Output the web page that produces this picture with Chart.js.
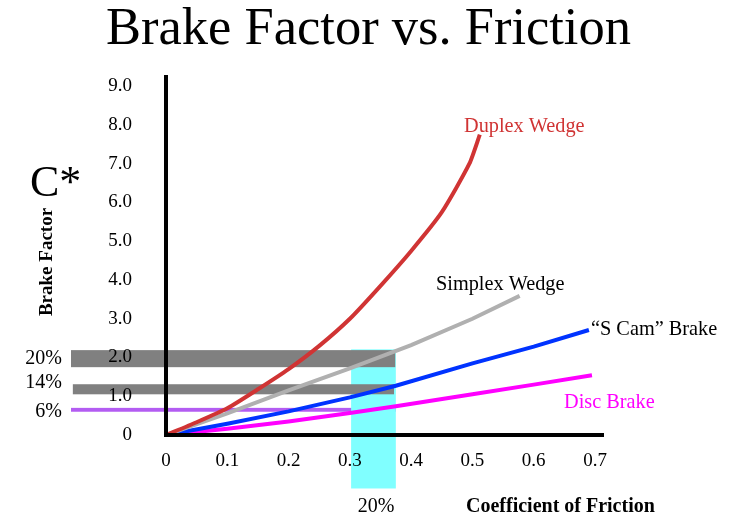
<!DOCTYPE html>
<html>
<head>
<meta charset="utf-8">
<script src="https://cdn.jsdelivr.net/npm/chart.js@4"></script>
<style>
  html, body { margin: 0; padding: 0; background: #fff; }
  #wrap { width: 737px; height: 530px; }
</style>
</head>
<body>
<div id="wrap"><canvas id="brake" width="737" height="530"></canvas></div>
<script>
// tick values
const xTicks = [0, 0.1, 0.2, 0.3, 0.4, 0.5, 0.6, 0.7];
const yTicks = [0, 1, 2, 3, 4, 5, 6, 7, 8, 9];

// curves
const duplexX = [0, 0.05, 0.1, 0.15, 0.2, 0.25, 0.3, 0.35, 0.4, 0.45, 0.495, 0.512];
const duplexY = [0, 0.33, 0.69, 1.18, 1.70, 2.30, 3.0, 3.85, 4.75, 5.75, 7.0, 7.75];
const simplexX = [0, 0.1, 0.2, 0.3, 0.4, 0.5, 0.577];
const simplexY = [0, 0.56, 1.15, 1.72, 2.32, 3.0, 3.59];
const sCamX = [0, 0.1, 0.2, 0.3, 0.375, 0.5, 0.6, 0.69];
const sCamY = [0, 0.29, 0.61, 0.97, 1.27, 1.85, 2.28, 2.71];
const discX = [0, 0.1, 0.2, 0.3, 0.375, 0.5, 0.6, 0.695];
const discY = [0, 0.16, 0.35, 0.57, 0.74, 1.05, 1.30, 1.54];

// horizontal shaded bands (brake factor ranges) and the friction band
const shadeLabels = ['20%', '14%', '6%'];
const shadeLow = [1.75, 1.05, 0.60];
const shadeHigh = [2.19, 1.31, 0.70];
const shadeFrom = -0.155;
const shadeTo = [0.374, 0.372, 0.375];
const frictionBand = [0.302, 0.375];
const frictionRange = [-1.38, 2.21];

const serif = '"Liberation Serif", "Times New Roman", serif';

function pts(xs, ys) {
    return xs.map((x, i) => ({ x: x, y: ys[i] }));
}

// bands behind the curves, computed through the chart scales
const bandsPlugin = {
    id: 'bands',
    beforeDatasetsDraw(chart) {
        const { ctx, scales: { x, y } } = chart;
        const rect = (x0, x1, y0, y1, color) => {
            const px0 = x.getPixelForValue(x0), px1 = x.getPixelForValue(x1);
            const py0 = y.getPixelForValue(y0), py1 = y.getPixelForValue(y1);
            ctx.fillStyle = color;
            ctx.fillRect(px0, py1, px1 - px0, py0 - py1);
        };
        ctx.save();
        // 6% line sits under the friction band
        rect(shadeFrom, shadeTo[2], shadeLow[2], shadeHigh[2], '#b35cf2');
        rect(frictionBand[0], frictionBand[1], frictionRange[0], frictionRange[1], '#80ffff');
        rect(shadeFrom, shadeTo[0], shadeLow[0], shadeHigh[0], '#808080');
        rect(shadeFrom + 0.003, shadeTo[1], shadeLow[1], shadeHigh[1], '#808080');
        ctx.restore();
    }
};

// free text around the plot
const noteFont = '20.3px ' + serif;
const notes = [
    { text: 'C*', x: 30, y: 196, font: '44px ' + serif, color: '#000', align: 'left' },
    { text: 'Duplex Wedge', x: 464, y: 132, font: noteFont, color: '#d03434', align: 'left' },
    { text: 'Simplex Wedge', x: 436, y: 290, font: noteFont, color: '#000', align: 'left' },
    { text: '\u201CS Cam\u201D Brake', x: 591, y: 335, font: noteFont, color: '#000', align: 'left' },
    { text: 'Disc Brake', x: 564, y: 408, font: noteFont, color: '#ff00ff', align: 'left' },
    { text: shadeLabels[0], x: 62, y: 364, font: '20px ' + serif, color: '#000', align: 'right' },
    { text: shadeLabels[1], x: 62, y: 388, font: '20px ' + serif, color: '#000', align: 'right' },
    { text: shadeLabels[2], x: 62, y: 417, font: '20px ' + serif, color: '#000', align: 'right' },
    { text: '20%', x: 376, y: 512, font: '20px ' + serif, color: '#000', align: 'center' },
    { text: 'Coefficient of Friction', x: 466, y: 512, font: 'bold 20px ' + serif, color: '#000', align: 'left' }
];

const notesPlugin = {
    id: 'notes',
    afterDraw(chart) {
        const ctx = chart.ctx;
        ctx.save();
        ctx.textBaseline = 'alphabetic';
        notes.forEach(n => {
            ctx.font = n.font;
            ctx.fillStyle = n.color;
            ctx.textAlign = n.align;
            ctx.fillText(n.text, n.x, n.y);
        });
        // rotated axis title
        ctx.translate(47, 262);
        ctx.rotate(-Math.PI / 2);
        ctx.font = 'bold 19px ' + serif;
        ctx.textAlign = 'center';
        ctx.textBaseline = 'middle';
        ctx.fillStyle = '#000';
        ctx.fillText('Brake Factor', 0, 0);
        ctx.restore();
    }
};

const ctx = document.getElementById('brake').getContext('2d');
const brakeChart = new Chart(ctx, {
    type: 'line',
    data: {
        datasets: [
            { label: 'Duplex Wedge', data: pts(duplexX, duplexY), borderColor: '#d03434', borderWidth: 4, tension: 0.2 },
            { label: 'Simplex Wedge', data: pts(simplexX, simplexY), borderColor: '#b0b0b0', borderWidth: 4 },
            { label: '"S Cam" Brake', data: pts(sCamX, sCamY), borderColor: '#0033ff', borderWidth: 4 },
            { label: 'Disc Brake', data: pts(discX, discY), borderColor: '#ff00ff', borderWidth: 4 }
        ]
    },
    options: {
        responsive: false,
        animation: false,
        elements: { point: { radius: 0 }, line: { borderCapStyle: 'butt' } },
        layout: { padding: { left: 0, right: 0, top: 0, bottom: 0 } },
        plugins: {
            legend: { display: false },
            tooltip: { enabled: false },
            title: {
                display: true,
                text: 'Brake Factor vs. Friction',
                color: '#000',
                font: { family: serif, size: 52.5, weight: 'normal', lineHeight: 1 },
                padding: { top: 4, bottom: 20 }
            }
        },
        scales: {
            x: {
                type: 'linear',
                min: 0,
                max: 0.713,
                grid: { display: false, drawTicks: false },
                border: { display: true, color: '#000', width: 4, z: 1 },
                afterBuildTicks: s => { s.ticks = xTicks.map(v => ({ value: v })); },
                afterFit: s => { s.height = 95; },
                ticks: {
                    z: 1,
                    color: '#000',
                    padding: 15,
                    maxRotation: 0,
                    font: { family: serif, size: 19 },
                    callback: v => v === 0 ? '0' : v.toFixed(1)
                }
            },
            y: {
                type: 'linear',
                min: 0,
                max: 9.25,
                grid: { display: false, drawTicks: false },
                border: { display: true, color: '#000', width: 4, z: 1 },
                afterBuildTicks: s => { s.ticks = yTicks.map(v => ({ value: v })); },
                afterFit: s => { s.width = 166; },
                ticks: {
                    z: 1,
                    color: '#000',
                    padding: 34,
                    font: { family: serif, size: 19 },
                    callback: v => v === 0 ? '0' : v.toFixed(1)
                }
            },
            spare: {
                type: 'linear',
                position: 'right',
                display: true,
                grid: { display: false, drawTicks: false },
                border: { display: false },
                ticks: { display: false },
                afterFit: s => { s.width = 134; }
            }
        }
    },
    plugins: [bandsPlugin, notesPlugin]
});
</script>
</body>
</html>
